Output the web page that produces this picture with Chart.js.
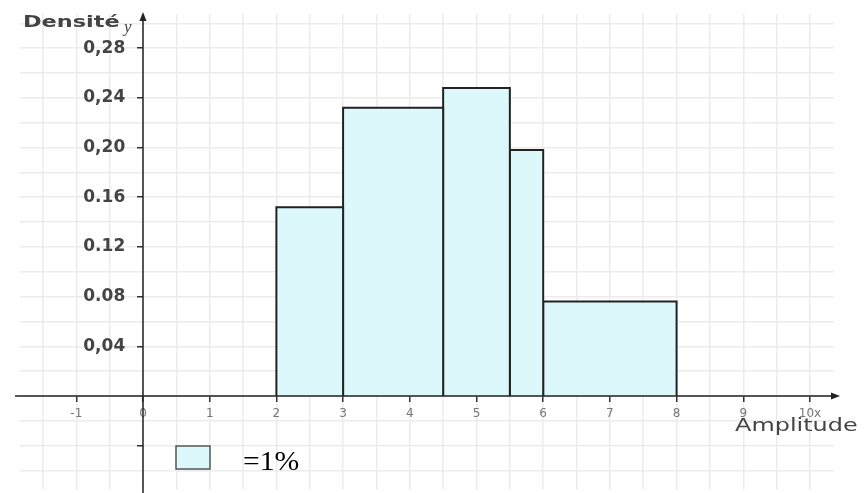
<!DOCTYPE html>
<html>
<head>
<meta charset="utf-8">
<script src="https://cdn.jsdelivr.net/npm/chart.js@4.4.1/dist/chart.umd.min.js"></script>
<style>
  body { margin: 0; background: #fff; }
  canvas { display: block; }
</style>
</head>
<body>
<canvas id="myChart" width="864" height="493"></canvas>
<script>
// class bounds and densities of the histogram
const classStarts = [2, 3, 4.5, 5.5, 6];
const classEnds = [3, 4.5, 5.5, 6, 8];
const densities = [0.152, 0.232, 0.248, 0.198, 0.076];

const xTickValues = [-1, 0, 1, 2, 3, 4, 5, 6, 7, 8, 9, 10];
const xTickLabels = ['-1', '0', '1', '2', '3', '4', '5', '6', '7', '8', '9', '10x'];
const yTickValues = [-0.04, 0.04, 0.08, 0.12, 0.16, 0.20, 0.24, 0.28];
const yTickLabels = ['', '0,04', '0.08', '0.12', '0.16', '0,20', '0,24', '0,28'];

const barFill = '#dcf8fb';

function findTick(values, v) {
    return values.findIndex(t => Math.abs(t - v) < 1e-6);
}

// grid every half unit on x and every 0.02 on y
function gridTicks(from, to, step) {
    const out = [];
    for (let k = Math.ceil(from / step - 1e-9); k * step <= to + 1e-9; k++) {
        out.push({ value: Math.round(k * step * 1000) / 1000 });
    }
    return out;
}

const datasets = densities.map((h, i) => ({
    type: 'line',
    data: [
        { x: classStarts[i], y: 0 },
        { x: classStarts[i], y: h },
        { x: classEnds[i], y: h },
        { x: classEnds[i], y: 0 }
    ],
    borderColor: '#222',
    borderWidth: 2,
    backgroundColor: barFill,
    fill: 'origin',
    pointRadius: 0,
    tension: 0
}));

// the original picture is a bit stretched sideways
function wideText(ctx, text, x, y, sx) {
    ctx.save();
    ctx.translate(x, y);
    ctx.scale(sx, 1);
    ctx.fillText(text, 0, 0);
    ctx.restore();
}

// axes lines, arrows, titles and the small legend box
const decorations = {
    id: 'decorations',
    afterDatasetsDraw(chart) {
        const ctx = chart.ctx;
        const xs = chart.scales.x, ys = chart.scales.y;
        const x0 = xs.getPixelForValue(0), y0 = ys.getPixelForValue(0);
        ctx.save();
        ctx.strokeStyle = '#222';
        ctx.fillStyle = '#222';
        ctx.lineWidth = 1.5;
        ctx.beginPath();
        ctx.moveTo(15, y0);
        ctx.lineTo(836, y0);
        ctx.moveTo(x0, 493);
        ctx.lineTo(x0, 16);
        ctx.stroke();
        ctx.beginPath();
        ctx.moveTo(840, y0); ctx.lineTo(831, y0 - 3.5); ctx.lineTo(831, y0 + 3.5); ctx.closePath();
        ctx.fill();
        ctx.beginPath();
        ctx.moveTo(x0, 12); ctx.lineTo(x0 - 3.5, 21); ctx.lineTo(x0 + 3.5, 21); ctx.closePath();
        ctx.fill();

        ctx.fillStyle = '#444';
        ctx.textBaseline = 'alphabetic';
        ctx.font = 'bold 16px "DejaVu Sans"';
        wideText(ctx, 'Densité', 23, 27, 1.4);
        ctx.font = 'italic 17px "Liberation Serif"';
        ctx.fillText('y', 124, 32);
        ctx.font = '18px "DejaVu Sans"';
        wideText(ctx, 'Amplitude', 735, 431, 1.33);

        ctx.fillStyle = barFill;
        ctx.fillRect(176, 446, 34, 23);
        ctx.strokeStyle = '#555';
        ctx.lineWidth = 1.5;
        ctx.strokeRect(176, 446, 34, 23);
        ctx.fillStyle = '#000';
        ctx.font = '27px "Liberation Serif"';
        wideText(ctx, '=1%', 243, 470, 1.1);
        ctx.restore();
    }
};

new Chart(document.getElementById('myChart').getContext('2d'), {
    data: { datasets: datasets },
    plugins: [decorations],
    options: {
        responsive: false,
        animation: false,
        layout: { padding: { left: 20, right: 30, top: 14, bottom: 0 } },
        plugins: { legend: { display: false }, tooltip: { enabled: false } },
        scales: {
            x: {
                type: 'linear',
                min: -1.844,
                max: 10.36,
                position: { y: 0 },
                afterBuildTicks: s => { s.ticks = gridTicks(s.min, s.max, 0.5); },
                border: { display: false },
                grid: {
                    color: '#ececec',
                    lineWidth: 1.5,
                    tickLength: 6,
                    tickColor: c => findTick(xTickValues, c.tick.value) >= 0 ? '#333' : 'rgba(0,0,0,0)'
                },
                ticks: {
                    autoSkip: false,
                    maxRotation: 0,
                    padding: 11,
                    color: '#777',
                    font: { family: 'DejaVu Sans', size: 12, lineHeight: 0.1 },
                    callback: v => {
                        const i = findTick(xTickValues, v);
                        return i >= 0 ? xTickLabels[i] : '';
                    }
                }
            },
            y: {
                type: 'linear',
                min: -0.075,
                max: 0.3075,
                position: { x: 0 },
                afterBuildTicks: s => { s.ticks = gridTicks(s.min, s.max, 0.02); },
                border: { display: false },
                grid: {
                    color: '#ececec',
                    lineWidth: 1.5,
                    tickLength: 6,
                    tickColor: c => findTick(yTickValues, c.tick.value) >= 0 ? '#333' : 'rgba(0,0,0,0)'
                },
                ticks: {
                    autoSkip: false,
                    color: '#444',
                    font: { family: 'DejaVu Sans', size: 17, weight: 'bold', lineHeight: 0.1 },
                    // trailing spaces keep the label clear of the tick marks
                    callback: v => {
                        const i = findTick(yTickValues, v);
                        return i >= 0 && yTickLabels[i] ? yTickLabels[i] + '   ' : '';
                    }
                }
            }
        }
    }
});
</script>
</body>
</html>
